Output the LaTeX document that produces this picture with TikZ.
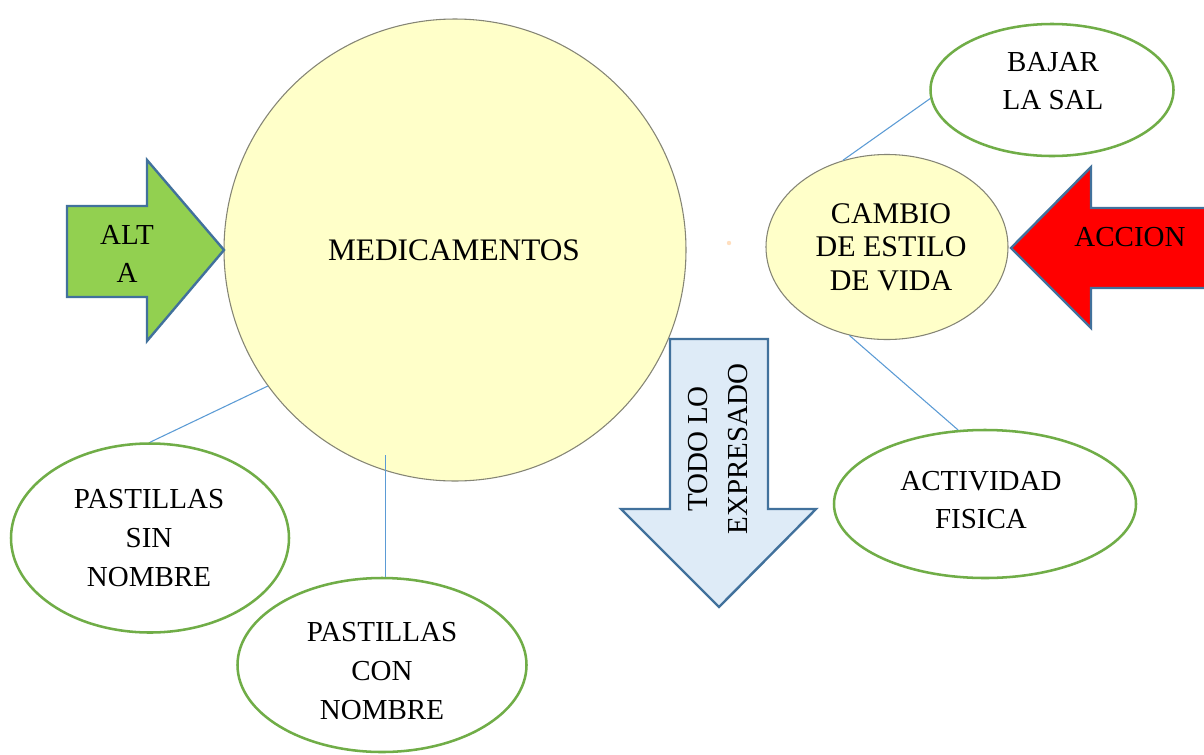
\documentclass[tikz,border=0pt]{standalone}
\usepackage{fontspec}
\setmainfont{Liberation Serif}
\usetikzlibrary{shapes.geometric}
\definecolor{bubgreen}{HTML}{70AD47}
\definecolor{paleyellow}{HTML}{FFFFC9}
\definecolor{linkblue}{HTML}{5B9BD5}
\definecolor{arrowedge}{HTML}{41719C}
\definecolor{arrgreen}{HTML}{92D050}
\definecolor{arrblue}{HTML}{DEEBF7}
\definecolor{circedge}{HTML}{858575}
\begin{document}
\begin{tikzpicture}[x=0.75pt,y=-0.75pt,
 lbl/.style={font=\fontsize{21.75}{28.9}\selectfont, align=center, text=black, inner sep=0pt},
 bub/.style={ellipse, draw=bubgreen, line width=1.9pt, fill=white, inner sep=0pt},
 yel/.style={draw=circedge, line width=0.8pt, fill=paleyellow, inner sep=0pt},
 link/.style={draw=linkblue, line width=0.8pt},
 arr/.style={draw=arrowedge, line width=1.8pt, line join=miter}]
\useasboundingbox[fill=white] (0,0) rectangle (1204,754);

% main circle
\node[yel, circle, minimum size=346.5pt] (med) at (455,250) {};
\node[lbl, font=\fontsize{23.5}{28.9}\selectfont] (medt) at (454,250) {MEDICAMENTOS};

% green arrow
\draw[arr, fill=arrgreen] (67,206) -- (147,206) -- (147,160) -- (224,250) -- (147,341) -- (147,297) -- (67,297) -- cycle;
\node[lbl] (alta) at (127,254) {ALT\\A};

% down arrow
\draw[arr, fill=arrblue] (670,339) -- (768,339) -- (768,509) -- (816,509) -- (719,607) -- (621,509) -- (670,509) -- cycle;
\node[lbl, rotate=90, font=\fontsize{21.75}{30}\selectfont] (todo) at (718,449) {TODO LO\\EXPRESADO};

% red arrow
\draw[arr, fill=red] (1011,248) -- (1091,167) -- (1091,208) -- (1215,208) -- (1215,288) -- (1091,288) -- (1091,328) -- cycle;
\node[lbl] (accion) at (1130,237) {ACCION};

% tiny mark
\fill[orange!25] (729,243) circle (2.2);

% ellipses
\node[yel, ellipse, minimum width=181.5pt, minimum height=138.75pt] (camb) at (887,247) {};
\node[lbl, font=\fontsize{22.5}{25.1}\selectfont] (cambt) at (891,247) {CAMBIO\\DE ESTILO\\DE VIDA};

\node[bub, minimum width=182.25pt, minimum height=99pt] (bajar) at (1052,90) {};
\node[lbl] (bajart) at (1053,81) {BAJAR\\LA SAL};

\node[bub, minimum width=226.5pt, minimum height=111pt] (act) at (985,504) {};
\node[lbl] (actt) at (981,500) {ACTIVIDAD\\FISICA};

\node[bub, minimum width=208.5pt, minimum height=141.75pt] (psin) at (150,538) {};
\node[lbl] (psint) at (149,538) {PASTILLAS\\SIN\\NOMBRE};

\node[bub, minimum width=216.75pt, minimum height=130.5pt] (pcon) at (382,665) {};
\node[lbl] (pcont) at (382,671) {PASTILLAS\\CON\\NOMBRE};

% connectors
\draw[link] (med.216) -- (psin.north);
\draw[link] (pcon.88) -- ++(0,-122);
\draw[link] (camb.117) -- (bajar.184);
\draw[link] (camb.247) -- (act.110);
\end{tikzpicture}
\end{document}
